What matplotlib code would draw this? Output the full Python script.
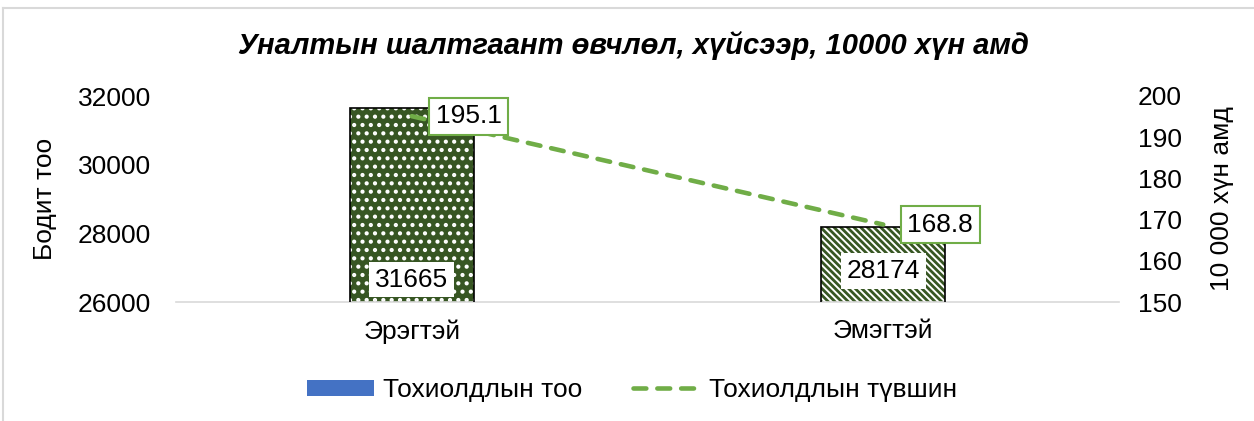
import matplotlib
matplotlib.use("Agg")
import matplotlib.pyplot as plt
from matplotlib.patches import Patch
from matplotlib.lines import Line2D

plt.rcParams['font.family'] = ['Liberation Sans', 'DejaVu Sans']

# ---- data ----
categories = ['Эрэгтэй', 'Эмэгтэй']
counts = [31665, 28174]
rates = [195.1, 168.8]
left_ticks = [26000, 28000, 30000, 32000]
right_ticks = [150, 160, 170, 180, 190, 200]
title = 'Уналтын шалтгаант өвчлөл, хүйсээр, 10000 хүн амд'
ylabel_left = 'Бодит тоо'
ylabel_right = '10 000 хүн амд'
legend_labels = ['Тохиолдлын тоо', 'Тохиолдлын түвшин']

W, H = 1254, 421
PX = 0.72  # points per pixel at 100 dpi
FS = 19
fig = plt.figure(figsize=(W / 100, H / 100), dpi=100)
ax = fig.add_axes([176 / W, 1 - 302 / H, (1119 - 176) / W, (302 - 96) / H])
ax2 = ax.twinx()

x = list(range(len(categories)))
bw = 0.263
dark = '#375623'
green = '#70AD47'
dash = (0, (2.8, 2.4))
lw_line = 3.3

# bar 1: dark with white dots; bar 2: white with dark diagonal stripes
with plt.rc_context({'hatch.linewidth': 1.8}):
    ax.bar(x[0], counts[0], bw, color=dark, hatch='..', edgecolor='white', linewidth=0, zorder=2)
with plt.rc_context({'hatch.linewidth': 2.0}):
    ax.bar(x[1], counts[1], bw, color='white', hatch='\\\\\\\\\\', edgecolor=dark, linewidth=0, zorder=2)
ax.bar(x, counts, bw, fill=False, edgecolor='black', linewidth=1.2, zorder=3)

ax.set_xlim(-0.5, 1.5)
ax.set_ylim(left_ticks[0], left_ticks[-1])
ax.set_yticks(left_ticks)
ax.set_xticks(x)
ax.set_xticklabels(categories)
ax.tick_params(axis='both', length=0, labelsize=FS)
ax.tick_params(axis='y', pad=25 * PX)
ax.tick_params(axis='x', pad=17 * PX)
for s in ['top', 'left', 'right']:
    ax.spines[s].set_visible(False)
    ax2.spines[s].set_visible(False)
ax.spines['bottom'].set_color('#D9D9D9')
ax.spines['bottom'].set_linewidth(1.2)
ax2.spines['bottom'].set_visible(False)

ax.set_ylabel(ylabel_left, fontsize=FS)
ax.yaxis.set_label_coords((57 - 176) / (1119 - 176), 0.5)

# bar value labels
offs = [22.5, 31]
for xi, c, o in zip(x, counts, offs):
    ax.annotate(str(c), (xi, left_ticks[0]), xytext=(0, o * PX), textcoords='offset points',
                ha='center', va='center', fontsize=FS, zorder=5,
                bbox=dict(boxstyle='square,pad=0.22', fc='white', ec='none'))

# line on secondary axis
ax2.plot(x, rates, color=green, linewidth=lw_line, linestyle=dash,
         dash_capstyle='round', zorder=4)
ax2.set_ylim(right_ticks[0], right_ticks[-1])
ax2.set_yticks(right_ticks)
ax2.tick_params(axis='y', length=0, labelsize=FS, pad=19 * PX)
ax2.set_ylabel(ylabel_right, fontsize=FS, rotation=90)
ax2.yaxis.set_label_coords((1210 - 176) / (1119 - 176), 0.5)

for xi, r in zip(x, rates):
    ax2.annotate(f'{r:.1f}', (xi, r), xytext=(57 * PX, 0), textcoords='offset points',
                 ha='center', va='center', fontsize=FS, zorder=6,
                 bbox=dict(boxstyle='square,pad=0.25', fc='white', ec=green, lw=1.5))

ax.set_zorder(ax2.get_zorder() - 1)
ax.patch.set_visible(False)

fig.text(633 / W, 1 - 46 / H, title, ha='center', va='center', fontsize=21,
         fontweight='bold', fontstyle='italic')

handles = [Patch(facecolor='#4472C4', edgecolor='none'),
           Line2D([], [], color=green, linewidth=lw_line, linestyle=dash, dash_capstyle='round')]
fig.legend(handles, legend_labels, loc='center', bbox_to_anchor=(632 / W, 1 - 390 / H),
           ncol=2, frameon=False, fontsize=FS, handlelength=2.55, handletextpad=0.34,
           columnspacing=1.9, handleheight=0.55, borderpad=0)

# chart border (left and top)
fig.add_artist(Line2D([3 / W, 3 / W], [0, 1 - 8 / H], color='#D9D9D9', lw=1.5))
fig.add_artist(Line2D([3 / W, 1], [1 - 8 / H, 1 - 8 / H], color='#D9D9D9', lw=1.5))

fig.savefig('out.png', dpi=100)
